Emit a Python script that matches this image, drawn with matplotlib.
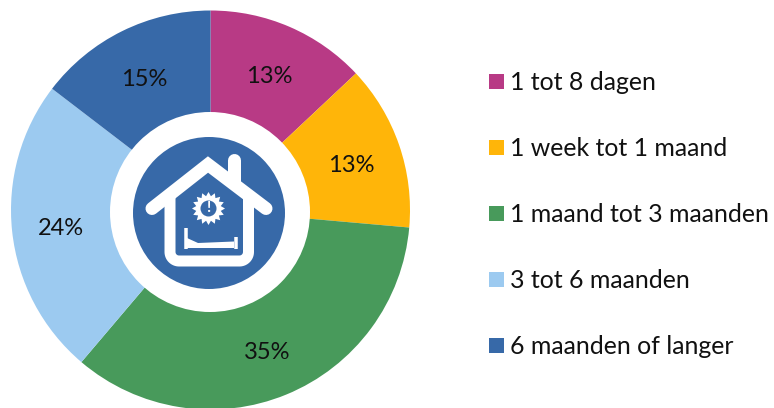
import numpy as np
import matplotlib
matplotlib.use("Agg")
import matplotlib.pyplot as plt
from matplotlib.patches import Circle, Polygon, Rectangle

plt.rcParams['font.family'] = ['Lato', 'DejaVu Sans']

categories = ['1 tot 8 dagen', '1 week tot 1 maand', '1 maand tot 3 maanden',
              '3 tot 6 maanden', '6 maanden of langer']
values = [13.0, 13.4, 34.8, 24.2, 14.6]
percent_labels = ['13%', '13%', '35%', '24%', '15%']
colors = ['#B83A85', '#FFB509', '#489A5B', '#9CCAF0', '#3769A8']

fig = plt.figure(figsize=(7.74, 4.08), dpi=100)

# donut, pie is drawn in its own axes so the scale stays a real pie
cx, cy, r = 210.5, 210, 199.5
pie_ax = fig.add_axes([(cx - r) / 774, 1 - (cy + r) / 408, 2 * r / 774, 2 * r / 408])
wedges, texts = pie_ax.pie(values, colors=colors, startangle=90, counterclock=False,
                           radius=1, wedgeprops={'linewidth': 0})
pie_ax.set_xlim(-1, 1)
pie_ax.set_ylim(-1, 1)

# overlay axes in pixels of the picture, y going down
icon = fig.add_axes([0, 0, 1, 1])
icon.set_xlim(0, 774)
icon.set_ylim(408, 0)
icon.axis('off')
icon.patch.set_alpha(0)
white = 'white'
blue = '#3769A8'
text_col = '#111111'

# percent labels
label_pos = [(269, 76.5), (351, 165.5), (267, 352.5), (61, 228.5), (144, 79.5)]
for lab, pos in zip(percent_labels, label_pos):
    icon.text(pos[0], pos[1], lab, fontsize=17, color=text_col, ha='center', va='center', zorder=5)

# icon in the middle
icon.add_patch(Circle((210, 212), 100, color=white, lw=0))
icon.add_patch(Circle((209, 213), 76, color=blue, lw=0))

lw_px = 72 / 100
# roof
icon.plot([152, 208, 266], [208.5, 164.5, 208.5], color=white, lw=13 * lw_px,
          solid_capstyle='round', solid_joinstyle='miter')
# chimney
icon.plot([234, 234], [160, 182], color=white, lw=13 * lw_px, solid_capstyle='round')
# walls
t = np.linspace(0, np.pi / 2, 12)
rc = 9
wall_x = [170] + list(170 + rc - rc * np.cos(t)) + list(248.5 - rc + rc * np.sin(t)) + [248.5]
wall_y = [198] + list(261 - rc + rc * np.sin(t)) + list(261 - rc + rc * np.cos(t)) + [198]
icon.plot(wall_x, wall_y, color=white, lw=11 * lw_px, solid_joinstyle='round')

# sun
n = 16
ang = np.linspace(0, 2 * np.pi, 2 * n, endpoint=False)
rad = np.where(np.arange(2 * n) % 2 == 0, 16.5, 12.5)
sun = np.column_stack([208.5 + rad * np.cos(ang), 208.5 + rad * np.sin(ang)])
icon.add_patch(Polygon(sun, closed=True, color=white, lw=0))
icon.add_patch(Circle((208.5, 208.5), 8, color=blue, lw=0))
icon.text(208.5, 208.5, '!', color=white, fontsize=11, fontweight='bold', ha='center', va='center')

# bed
icon.plot([186, 186], [228, 249], color=white, lw=3.5 * lw_px, solid_capstyle='butt')
icon.plot([235.5, 235.5], [236.5, 249], color=white, lw=3.5 * lw_px, solid_capstyle='butt')
icon.add_patch(Polygon([(187, 238), (198, 243), (234, 241.5), (234, 248), (187, 248)],
                       closed=True, color=white, lw=0))

# legend
legend_y = [81.5, 147.5, 213.5, 279.5, 345.5]
for name, col, y in zip(categories, colors, legend_y):
    icon.add_patch(Rectangle((489, y - 7.5), 15, 15, color=col, lw=0))
    icon.text(510, y + 0.5, name, fontsize=17.9, color=text_col, ha='left', va='center')

fig.savefig('out.png', dpi=100)
